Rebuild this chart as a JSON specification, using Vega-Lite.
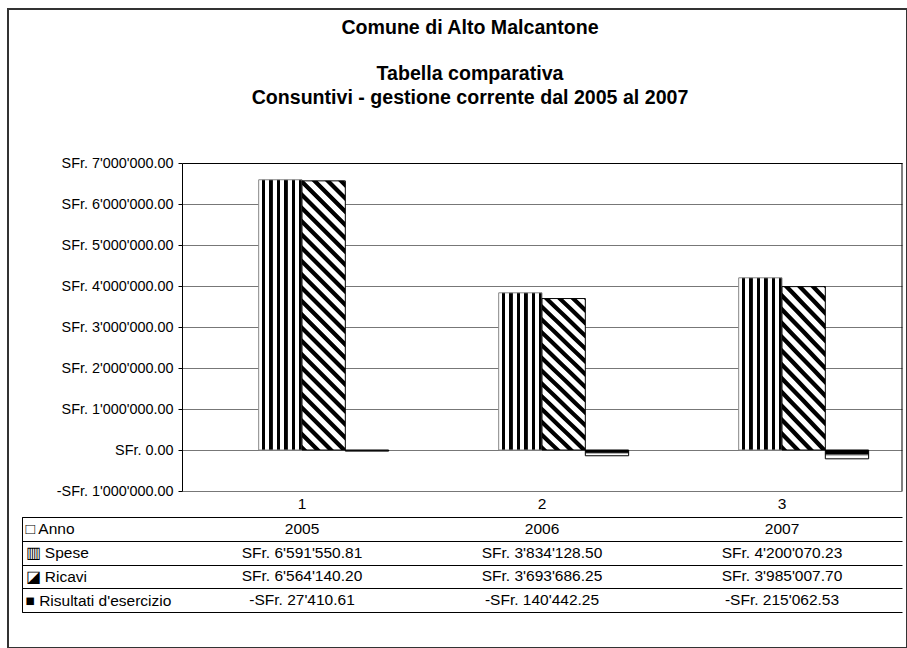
{
  "$schema": "https://vega.github.io/schema/vega-lite/v6.json",
  "width": 899,
  "height": 639,
  "autosize": {"type": "none"},
  "padding": {"left": 8, "top": 9, "right": 0, "bottom": 0},
  "background": "white",
  "config": {
    "font": "Liberation Sans",
    "locale": {"number": {"decimal": ".", "thousands": "'", "grouping": [3], "currency": ["SFr. ", ""], "minus": "-"}},
    "view": {"stroke": "#333333", "strokeWidth": 2}
  },
  "title": {
    "text": "Comune di Alto Malcantone",
    "subtitle": ["Tabella comparativa", "Consuntivi - gestione corrente dal 2005 al 2007"],
    "orient": "top", "anchor": "middle", "frame": "group",
    "offset": -121.5, "dx": 12.5, "baseline": "alphabetic",
    "fontSize": 19.6, "fontWeight": "bold", "font": "Liberation Sans", "color": "#000",
    "subtitleFontSize": 19.6, "subtitleFontWeight": "bold", "subtitleFont": "Liberation Sans", "subtitleColor": "#000",
    "subtitleLineHeight": 24, "subtitlePadding": 26.7
  },
  "datasets": {
    "valori": [
      {"idx": "1", "serie": "Anno", "valore": 2005},
      {"idx": "1", "serie": "Spese", "valore": 6591550.81},
      {"idx": "1", "serie": "Ricavi", "valore": 6564140.20},
      {"idx": "1", "serie": "Risultati d'esercizio", "valore": -27410.61},
      {"idx": "2", "serie": "Anno", "valore": 2006},
      {"idx": "2", "serie": "Spese", "valore": 3834128.50},
      {"idx": "2", "serie": "Ricavi", "valore": 3693686.25},
      {"idx": "2", "serie": "Risultati d'esercizio", "valore": -140442.25},
      {"idx": "3", "serie": "Anno", "valore": 2007},
      {"idx": "3", "serie": "Spese", "valore": 4200070.23},
      {"idx": "3", "serie": "Ricavi", "valore": 3985007.70},
      {"idx": "3", "serie": "Risultati d'esercizio", "valore": -215062.53}
    ]
  },
  "data": {"name": "valori"},
  "layer": [
    {
      "transform": [{"filter": {"field": "serie", "equal": "Spese"}}],
      "mark": {"type": "bar", "stroke": "#888888", "strokeWidth": 1,
        "fill": {"gradient": "linear", "x1": 0, "y1": 0, "x2": 1, "y2": 0, "stops": [
          {"offset": 0, "color": "white"}, {"offset": 0.067, "color": "white"}, {"offset": 0.077, "color": "black"}, {"offset": 0.145, "color": "black"},
          {"offset": 0.155, "color": "white"}, {"offset": 0.24, "color": "white"}, {"offset": 0.25, "color": "black"}, {"offset": 0.318, "color": "black"},
          {"offset": 0.328, "color": "white"}, {"offset": 0.413, "color": "white"}, {"offset": 0.423, "color": "black"}, {"offset": 0.491, "color": "black"},
          {"offset": 0.501, "color": "white"}, {"offset": 0.586, "color": "white"}, {"offset": 0.596, "color": "black"}, {"offset": 0.664, "color": "black"},
          {"offset": 0.674, "color": "white"}, {"offset": 0.759, "color": "white"}, {"offset": 0.769, "color": "black"}, {"offset": 0.837, "color": "black"},
          {"offset": 0.847, "color": "white"}, {"offset": 0.932, "color": "white"}, {"offset": 0.942, "color": "black"}, {"offset": 1, "color": "black"}
        ]}},
      "encoding": {
        "x": {"field": "idx", "type": "nominal", "scale": {"domain": ["1", "2", "3"], "range": [174, 894], "paddingInner": 0, "paddingOuter": 0},
          "axis": {"orient": "bottom", "offset": -157, "tickBand": "extent", "tickSize": 121.3, "tickColor": "#000", "domainColor": "#000",
            "labels": false, "title": null, "grid": false}},
        "xOffset": {"field": "serie", "type": "nominal", "scale": {"domain": ["Anno", "Spese", "Ricavi", "Risultati d'esercizio"], "paddingInner": 0, "paddingOuter": 0.77}},
        "y": {"field": "valore", "type": "quantitative", "stack": null,
          "scale": {"domain": [-1000000, 7000000], "range": [482, 154], "nice": false, "zero": false},
          "axis": {"orient": "left", "offset": -174, "values": [-1000000, 0, 1000000, 2000000, 3000000, 4000000, 5000000, 6000000, 7000000],
            "format": "$,.2f", "labelFontSize": 14.4, "labelColor": "#000", "labelPadding": 5, "tickSize": 4, "tickColor": "#000", "domainColor": "#000",
            "grid": true, "gridColor": {"condition": {"test": "datum.value == 7000000", "value": "#000"}, "value": "#777777"}, "title": null}}
      }
    },
    {
      "transform": [{"filter": {"and": [{"field": "serie", "equal": "Ricavi"}, {"field": "idx", "equal": "1"}]}}],
      "mark": {"type": "bar", "stroke": "#000", "strokeWidth": 1,
        "fill": {"gradient": "linear", "x1": 0, "y1": 1, "x2": 0.1938, "y2": -0.2043, "stops": [
          {"offset": 0, "color": "black"}, {"offset": 0.014, "color": "black"}, {"offset": 0.018, "color": "white"}, {"offset": 0.036, "color": "white"},
          {"offset": 0.04, "color": "black"}, {"offset": 0.054, "color": "black"}, {"offset": 0.058, "color": "white"}, {"offset": 0.076, "color": "white"},
          {"offset": 0.08, "color": "black"}, {"offset": 0.094, "color": "black"}, {"offset": 0.098, "color": "white"}, {"offset": 0.116, "color": "white"},
          {"offset": 0.12, "color": "black"}, {"offset": 0.134, "color": "black"}, {"offset": 0.138, "color": "white"}, {"offset": 0.156, "color": "white"},
          {"offset": 0.16, "color": "black"}, {"offset": 0.174, "color": "black"}, {"offset": 0.178, "color": "white"}, {"offset": 0.196, "color": "white"},
          {"offset": 0.2, "color": "black"}, {"offset": 0.214, "color": "black"}, {"offset": 0.218, "color": "white"}, {"offset": 0.236, "color": "white"},
          {"offset": 0.24, "color": "black"}, {"offset": 0.254, "color": "black"}, {"offset": 0.258, "color": "white"}, {"offset": 0.276, "color": "white"},
          {"offset": 0.28, "color": "black"}, {"offset": 0.294, "color": "black"}, {"offset": 0.298, "color": "white"}, {"offset": 0.316, "color": "white"},
          {"offset": 0.32, "color": "black"}, {"offset": 0.334, "color": "black"}, {"offset": 0.338, "color": "white"}, {"offset": 0.356, "color": "white"},
          {"offset": 0.36, "color": "black"}, {"offset": 0.374, "color": "black"}, {"offset": 0.378, "color": "white"}, {"offset": 0.396, "color": "white"},
          {"offset": 0.4, "color": "black"}, {"offset": 0.414, "color": "black"}, {"offset": 0.418, "color": "white"}, {"offset": 0.436, "color": "white"},
          {"offset": 0.44, "color": "black"}, {"offset": 0.454, "color": "black"}, {"offset": 0.458, "color": "white"}, {"offset": 0.476, "color": "white"},
          {"offset": 0.48, "color": "black"}, {"offset": 0.494, "color": "black"}, {"offset": 0.498, "color": "white"}, {"offset": 0.516, "color": "white"},
          {"offset": 0.52, "color": "black"}, {"offset": 0.534, "color": "black"}, {"offset": 0.538, "color": "white"}, {"offset": 0.556, "color": "white"},
          {"offset": 0.56, "color": "black"}, {"offset": 0.574, "color": "black"}, {"offset": 0.578, "color": "white"}, {"offset": 0.596, "color": "white"},
          {"offset": 0.6, "color": "black"}, {"offset": 0.614, "color": "black"}, {"offset": 0.618, "color": "white"}, {"offset": 0.636, "color": "white"},
          {"offset": 0.64, "color": "black"}, {"offset": 0.654, "color": "black"}, {"offset": 0.658, "color": "white"}, {"offset": 0.676, "color": "white"},
          {"offset": 0.68, "color": "black"}, {"offset": 0.694, "color": "black"}, {"offset": 0.698, "color": "white"}, {"offset": 0.716, "color": "white"},
          {"offset": 0.72, "color": "black"}, {"offset": 0.734, "color": "black"}, {"offset": 0.738, "color": "white"}, {"offset": 0.756, "color": "white"},
          {"offset": 0.76, "color": "black"}, {"offset": 0.774, "color": "black"}, {"offset": 0.778, "color": "white"}, {"offset": 0.796, "color": "white"},
          {"offset": 0.8, "color": "black"}, {"offset": 0.814, "color": "black"}, {"offset": 0.818, "color": "white"}, {"offset": 0.836, "color": "white"},
          {"offset": 0.84, "color": "black"}, {"offset": 0.854, "color": "black"}, {"offset": 0.858, "color": "white"}, {"offset": 0.876, "color": "white"},
          {"offset": 0.88, "color": "black"}, {"offset": 0.894, "color": "black"}, {"offset": 0.898, "color": "white"}, {"offset": 0.916, "color": "white"},
          {"offset": 0.92, "color": "black"}, {"offset": 0.934, "color": "black"}, {"offset": 0.938, "color": "white"}, {"offset": 0.956, "color": "white"},
          {"offset": 0.96, "color": "black"}, {"offset": 0.974, "color": "black"}, {"offset": 0.978, "color": "white"}, {"offset": 0.996, "color": "white"}
        ]}},
      "encoding": {
        "x": {"field": "idx", "type": "nominal", "scale": {"domain": ["1", "2", "3"], "range": [174, 894], "paddingInner": 0, "paddingOuter": 0}, "axis": null},
        "xOffset": {"field": "serie", "type": "nominal", "scale": {"domain": ["Anno", "Spese", "Ricavi", "Risultati d'esercizio"], "paddingInner": 0, "paddingOuter": 0.77}},
        "y": {"field": "valore", "type": "quantitative", "stack": null, "scale": {"domain": [-1000000, 7000000], "range": [482, 154], "nice": false, "zero": false}, "axis": null}
      }
    },
    {
      "transform": [{"filter": {"and": [{"field": "serie", "equal": "Ricavi"}, {"field": "idx", "oneOf": ["2", "3"]}]}}],
      "mark": {"type": "bar", "stroke": "#000", "strokeWidth": 1,
        "fill": {"gradient": "linear", "x1": 0, "y1": 1, "x2": 0.5403, "y2": -0.964, "stops": [
          {"offset": 0, "color": "black"}, {"offset": 0.014, "color": "black"}, {"offset": 0.018, "color": "white"}, {"offset": 0.036, "color": "white"},
          {"offset": 0.04, "color": "black"}, {"offset": 0.054, "color": "black"}, {"offset": 0.058, "color": "white"}, {"offset": 0.076, "color": "white"},
          {"offset": 0.08, "color": "black"}, {"offset": 0.094, "color": "black"}, {"offset": 0.098, "color": "white"}, {"offset": 0.116, "color": "white"},
          {"offset": 0.12, "color": "black"}, {"offset": 0.134, "color": "black"}, {"offset": 0.138, "color": "white"}, {"offset": 0.156, "color": "white"},
          {"offset": 0.16, "color": "black"}, {"offset": 0.174, "color": "black"}, {"offset": 0.178, "color": "white"}, {"offset": 0.196, "color": "white"},
          {"offset": 0.2, "color": "black"}, {"offset": 0.214, "color": "black"}, {"offset": 0.218, "color": "white"}, {"offset": 0.236, "color": "white"},
          {"offset": 0.24, "color": "black"}, {"offset": 0.254, "color": "black"}, {"offset": 0.258, "color": "white"}, {"offset": 0.276, "color": "white"},
          {"offset": 0.28, "color": "black"}, {"offset": 0.294, "color": "black"}, {"offset": 0.298, "color": "white"}, {"offset": 0.316, "color": "white"},
          {"offset": 0.32, "color": "black"}, {"offset": 0.334, "color": "black"}, {"offset": 0.338, "color": "white"}, {"offset": 0.356, "color": "white"},
          {"offset": 0.36, "color": "black"}, {"offset": 0.374, "color": "black"}, {"offset": 0.378, "color": "white"}, {"offset": 0.396, "color": "white"},
          {"offset": 0.4, "color": "black"}, {"offset": 0.414, "color": "black"}, {"offset": 0.418, "color": "white"}, {"offset": 0.436, "color": "white"},
          {"offset": 0.44, "color": "black"}, {"offset": 0.454, "color": "black"}, {"offset": 0.458, "color": "white"}, {"offset": 0.476, "color": "white"},
          {"offset": 0.48, "color": "black"}, {"offset": 0.494, "color": "black"}, {"offset": 0.498, "color": "white"}, {"offset": 0.516, "color": "white"},
          {"offset": 0.52, "color": "black"}, {"offset": 0.534, "color": "black"}, {"offset": 0.538, "color": "white"}, {"offset": 0.556, "color": "white"},
          {"offset": 0.56, "color": "black"}, {"offset": 0.574, "color": "black"}, {"offset": 0.578, "color": "white"}, {"offset": 0.596, "color": "white"},
          {"offset": 0.6, "color": "black"}, {"offset": 0.614, "color": "black"}, {"offset": 0.618, "color": "white"}, {"offset": 0.636, "color": "white"},
          {"offset": 0.64, "color": "black"}, {"offset": 0.654, "color": "black"}, {"offset": 0.658, "color": "white"}, {"offset": 0.676, "color": "white"},
          {"offset": 0.68, "color": "black"}, {"offset": 0.694, "color": "black"}, {"offset": 0.698, "color": "white"}, {"offset": 0.716, "color": "white"},
          {"offset": 0.72, "color": "black"}, {"offset": 0.734, "color": "black"}, {"offset": 0.738, "color": "white"}, {"offset": 0.756, "color": "white"},
          {"offset": 0.76, "color": "black"}, {"offset": 0.774, "color": "black"}, {"offset": 0.778, "color": "white"}, {"offset": 0.796, "color": "white"},
          {"offset": 0.8, "color": "black"}, {"offset": 0.814, "color": "black"}, {"offset": 0.818, "color": "white"}, {"offset": 0.836, "color": "white"},
          {"offset": 0.84, "color": "black"}, {"offset": 0.854, "color": "black"}, {"offset": 0.858, "color": "white"}, {"offset": 0.876, "color": "white"},
          {"offset": 0.88, "color": "black"}, {"offset": 0.894, "color": "black"}, {"offset": 0.898, "color": "white"}, {"offset": 0.916, "color": "white"},
          {"offset": 0.92, "color": "black"}, {"offset": 0.934, "color": "black"}, {"offset": 0.938, "color": "white"}, {"offset": 0.956, "color": "white"},
          {"offset": 0.96, "color": "black"}, {"offset": 0.974, "color": "black"}, {"offset": 0.978, "color": "white"}, {"offset": 0.996, "color": "white"}
        ]}},
      "encoding": {
        "x": {"field": "idx", "type": "nominal", "scale": {"domain": ["1", "2", "3"], "range": [174, 894], "paddingInner": 0, "paddingOuter": 0}, "axis": null},
        "xOffset": {"field": "serie", "type": "nominal", "scale": {"domain": ["Anno", "Spese", "Ricavi", "Risultati d'esercizio"], "paddingInner": 0, "paddingOuter": 0.77}},
        "y": {"field": "valore", "type": "quantitative", "stack": null, "scale": {"domain": [-1000000, 7000000], "range": [482, 154], "nice": false, "zero": false}, "axis": null}
      }
    },
    {
      "transform": [{"filter": {"field": "serie", "equal": "Risultati d'esercizio"}}],
      "mark": {"type": "bar", "stroke": "#000", "strokeWidth": 1,
        "fill": {"gradient": "linear", "x1": 0, "y1": 0, "x2": 0, "y2": 1, "stops": [
          {"offset": 0, "color": "black"}, {"offset": 0.4, "color": "black"}, {"offset": 0.7, "color": "white"}, {"offset": 1, "color": "white"}
        ]}},
      "encoding": {
        "x": {"field": "idx", "type": "nominal", "scale": {"domain": ["1", "2", "3"], "range": [174, 894], "paddingInner": 0, "paddingOuter": 0}, "axis": null},
        "xOffset": {"field": "serie", "type": "nominal", "scale": {"domain": ["Anno", "Spese", "Ricavi", "Risultati d'esercizio"], "paddingInner": 0, "paddingOuter": 0.77}},
        "y": {"field": "valore", "type": "quantitative", "stack": null, "scale": {"domain": [-1000000, 7000000], "range": [482, 154], "nice": false, "zero": false}, "axis": null}
      }
    },
    {
      "transform": [{"filter": {"and": [{"field": "serie", "equal": "Spese"}, {"field": "idx", "equal": "3"}]}}],
      "mark": {"type": "rule", "color": "#000", "strokeWidth": 1},
      "encoding": {
        "x": {"field": "idx", "type": "nominal", "bandPosition": 1, "scale": {"domain": ["1", "2", "3"], "range": [174, 894], "paddingInner": 0, "paddingOuter": 0}, "axis": null},
        "y": {"datum": 7000000, "type": "quantitative", "scale": {"domain": [-1000000, 7000000], "range": [482, 154], "nice": false, "zero": false}, "axis": null},
        "y2": {"datum": -1000000}
      }
    },
    {
      "transform": [{"filter": {"field": "serie", "equal": "Spese"}}],
      "mark": {"type": "text", "fontSize": 15.5, "color": "#000", "baseline": "middle", "font": "Liberation Sans"},
      "encoding": {
        "x": {"field": "idx", "type": "nominal", "scale": {"domain": ["1", "2", "3"], "range": [174, 894], "paddingInner": 0, "paddingOuter": 0}, "axis": null},
        "y": {"datum": -1313000, "type": "quantitative", "scale": {"domain": [-1000000, 7000000], "range": [482, 154], "nice": false, "zero": false}, "axis": null},
        "text": {"field": "idx", "type": "nominal"}
      }
    },
    {
      "transform": [{"filter": {"field": "serie", "oneOf": ["Spese", "Ricavi", "Risultati d'esercizio"]}}],
      "mark": {"type": "text", "fontSize": 15.5, "color": "#000", "baseline": "middle", "font": "Liberation Sans"},
      "encoding": {
        "x": {"field": "idx", "type": "nominal", "scale": {"domain": ["1", "2", "3"], "range": [174, 894], "paddingInner": 0, "paddingOuter": 0}, "axis": null},
        "y": {"field": "serie", "type": "nominal",
          "scale": {"domain": ["Anno", "Spese", "Ricavi", "Risultati d'esercizio"], "range": [507.7, 603.3], "paddingInner": 0, "paddingOuter": 0},
          "axis": {"orient": "left", "offset": -14, "tickBand": "extent", "tickSize": -880, "tickColor": "#000", "domainColor": "#000",
            "labelAlign": "left", "labelBaseline": "middle", "labelPadding": 877, "labelFontSize": 15.5, "labelColor": "#000",
            "labelExpr": "!isValid(datum.value) ? '' : datum.value == 'Anno' ? '□ ' + datum.value : datum.value == 'Spese' ? '▥ ' + datum.value : datum.value == 'Ricavi' ? '◪ ' + datum.value : '■ ' + datum.value",
            "title": null, "grid": false}},
        "text": {"field": "valore", "type": "quantitative", "format": "$,.2f"}
      }
    },
    {
      "transform": [{"filter": {"field": "serie", "equal": "Anno"}}],
      "mark": {"type": "text", "fontSize": 15.5, "color": "#000", "baseline": "middle", "font": "Liberation Sans"},
      "encoding": {
        "x": {"field": "idx", "type": "nominal", "scale": {"domain": ["1", "2", "3"], "range": [174, 894], "paddingInner": 0, "paddingOuter": 0}, "axis": null},
        "y": {"field": "serie", "type": "nominal",
          "scale": {"domain": ["Anno", "Spese", "Ricavi", "Risultati d'esercizio"], "range": [507.7, 603.3], "paddingInner": 0, "paddingOuter": 0},
          "axis": null},
        "text": {"field": "valore", "type": "quantitative", "format": "d"}
      }
    }
  ],
  "resolve": {"scale": {"y": "independent"}, "axis": {"y": "independent"}}
}
